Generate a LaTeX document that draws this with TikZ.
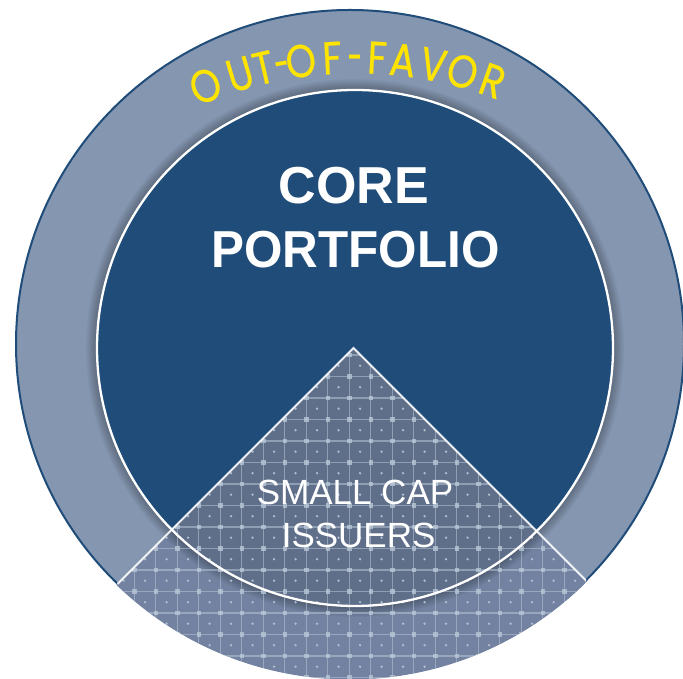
\documentclass[tikz,border=0pt]{standalone}
\usepackage{fontspec}
\setmainfont{Liberation Sans}
\newfontfamily\favfont[FakeBold=0.5]{Poppins}
\definecolor{ringc}{HTML}{8496B0}
\definecolor{darkc}{HTML}{1F4C78}
\definecolor{wedgein}{HTML}{5F6E89}
\definecolor{wedgeout}{HTML}{7282A0}
\definecolor{gridc}{HTML}{B8C6D6}
\definecolor{favy}{HTML}{FFE400}
\newcommand{\favdash}{\scalebox{0.7}[1]{-}}
\newcommand{\favletter}[1]{\scalebox{0.84}[1]{#1}}
\tikzset{
  coretext/.style={text=white, inner sep=0pt, anchor=base, font=\fontsize{52}{60}\selectfont\bfseries},
  smalltext/.style={text=white, inner sep=0pt, anchor=base, font=\fontsize{35}{42}\selectfont},
  favtext/.style={text=favy, inner sep=0pt, anchor=base, font=\favfont\fontsize{46}{52}\selectfont},
}
\begin{document}
\begin{tikzpicture}[x=1pt,y=1pt]
\useasboundingbox (0,0) rectangle (683,679);
\coordinate (oc) at (350,335);
\coordinate (ic) at (355,331);
\coordinate (apex) at (353.5,331);
\coordinate (wl) at (-66.5,-89);
\coordinate (wr) at (773.5,-89);
\coordinate (arcc) at (355.7,211.6);
% ring
\fill[ringc] (oc) circle (334);
\foreach \k in {1,...,9}
  \draw[black, opacity=0.03, line width=\k*2.4pt] (ic) circle (258);
\draw[darkc, line width=2pt] (oc) circle (334);
% core
\fill[darkc] (ic) circle (258);
% wedge
\begin{scope}
  \clip (oc) circle (335.5);
  \clip (apex) -- (wl) -- (wr) -- cycle;
  \fill[wedgeout] (0,-5) rectangle (683,400);
  \foreach \k in {1,...,9}
    \draw[black, opacity=0.03, line width=\k*2.4pt] (ic) circle (258);
  \fill[wedgein] (ic) circle (258);
  \foreach \i in {-12,...,12}
    \draw[gridc, opacity=0.55, line width=1.3pt] ({349.3+21.5*\i},-5) -- ({349.3+21.5*\i},360);
  \foreach \j in {-4,...,14}
    \draw[gridc, opacity=0.55, line width=1.3pt] (0,{281-21.5*\j}) -- (683,{281-21.5*\j});
  \foreach \i in {-12,...,12}
    \foreach \j in {-4,...,14} {
      \fill[gridc, opacity=0.8] ({349.3+21.5*\i-2.2},{281-21.5*\j-2.2}) rectangle ++(4.4,4.4);
      \fill[gridc, opacity=0.9] ({349.3+21.5*\i+10.75},{281-21.5*\j-10.75}) circle (1.3);
    }
\end{scope}
\begin{scope}
  \clip (oc) circle (334);
  \draw[white, line width=1.8pt, opacity=0.9] (wl) -- (apex) -- (wr);
\end{scope}
\draw[white, line width=2.3pt] (ic) circle (258);
% texts
\node[coretext] (core) at (354,475.7) {CORE};
\node[coretext] (portfolio) at (355.5,411) {\scalebox{0.95}[1]{PORTFOLIO}};
\node[smalltext] (small) at (355,174) {SMALL CAP};
\node[smalltext] (issuers) at (358.6,131.7) {ISSUERS};
\foreach \ch/\a [count=\i] in {O/-21.5, U/-16.4, T/-13.0, \favdash/-10.4, O/-7.7, F/-3.3, \favdash/-0.1, F/3.0, A/6.6, V/10.9, O/15.1, R/19.5}
  \node[favtext, rotate=-\a] (fav\i) at ([shift={({90-\a}:394)}]arcc) {\favletter{\ch}};
\end{tikzpicture}
\end{document}
